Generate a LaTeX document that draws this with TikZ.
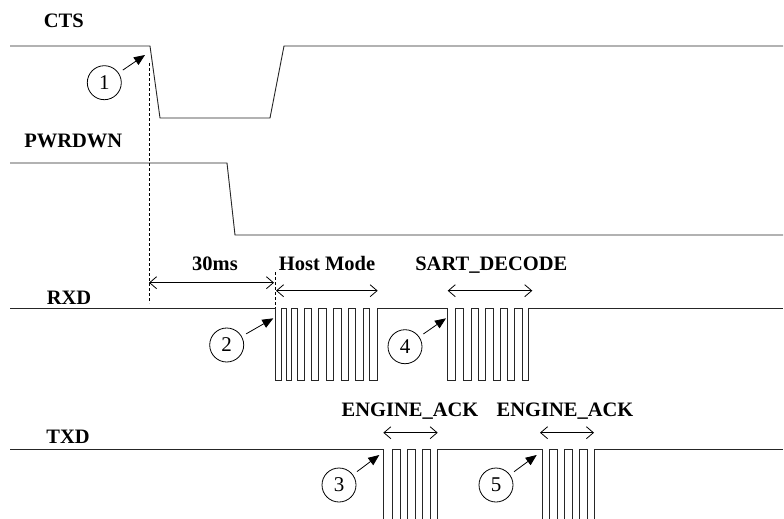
\documentclass[tikz,border=0pt]{standalone}
\usepackage{fontspec}
\setmainfont{Liberation Serif}
\usetikzlibrary{arrows.meta}
\begin{document}
\begin{tikzpicture}[x=1pt,y=-1pt,
  wave/.style={line width=0.9pt, draw=black!85},
  lbl/.style={font=\fontsize{20.5}{24}\selectfont\bfseries, anchor=base, inner sep=0pt},
  num/.style={circle, draw, line width=0.8pt, minimum size=34pt, inner sep=0pt, font=\fontsize{21}{24}\selectfont},
  ptr/.style={line width=0.8pt, shorten <=5pt, -{Triangle[length=11pt,width=9pt]}},
  span/.style={line width=0.8pt, {Straight Barb[length=7pt,width=12pt]}-{Straight Barb[length=7pt,width=12pt]}},
  guide/.style={line width=0.8pt, dash pattern=on 3pt off 2pt}
]
\useasboundingbox (0,0) rectangle (784,519);
\clip (0,0) rectangle (784,519);
\fill[white] (0,0) rectangle (784,519);

% labels
\node[lbl] (lcts) at (63.8,27.3) {CTS};
\node[lbl] (lpwr) at (73.3,147.3) {PWRDWN};
\node[lbl] (lrxd) at (69,304) {RXD};
\node[lbl] (ltxd) at (68,443) {TXD};
\node[lbl] (l30) at (215,270.7) {30ms};
\node[lbl] (lhost) at (327,270.7) {Host Mode};
\node[lbl] (lsart) at (491.3,270.7) {SART\_DECODE};
\node[lbl] (lea1) at (410,416.7) {ENGINE\_ACK};
\node[lbl] (lea2) at (565,416.7) {ENGINE\_ACK};

% CTS
\draw[wave] (10,46) -- (150,46) -- (160,118) -- (270,118) -- (284,46) -- (783,46);
% PWRDWN
\draw[wave] (10,163) -- (227,163) -- (235,235) -- (783,235);
% RXD
\draw[wave] (10,308) -- (275,308) -- (275,380) -- (281,380) -- (281,308) -- (286,308) -- (286,380) -- (291,380) -- (291,308) -- (297,308) -- (297,380) -- (304,380) -- (304,308) -- (311,308) -- (311,380) -- (318,380) -- (318,308) -- (326,308) -- (326,380) -- (333,380) -- (333,308) -- (341,308) -- (341,380) -- (348,380) -- (348,308) -- (355,308) -- (355,380) -- (363,380) -- (363,308) -- (369,308) -- (369,380) -- (377,380) -- (377,308) -- (447,308) -- (447,380) -- (455,380) -- (455,308) -- (463,308) -- (463,380) -- (471,380) -- (471,308) -- (478,308) -- (478,380) -- (485,380) -- (485,308) -- (493,308) -- (493,380) -- (500,380) -- (500,308) -- (507,308) -- (507,380) -- (514,380) -- (514,308) -- (522,308) -- (522,380) -- (528,380) -- (528,308) -- (783,308);
% TXD
\draw[wave] (10,449) -- (383,449) -- (383,525) -- (392,525) -- (392,449) -- (400,449) -- (400,525) -- (407,525) -- (407,449) -- (415,449) -- (415,525) -- (422,525) -- (422,449) -- (430,449) -- (430,525) -- (437,525) -- (437,449) -- (542,449) -- (542,525) -- (549,525) -- (549,449) -- (557,449) -- (557,525) -- (564,525) -- (564,449) -- (572,449) -- (572,525) -- (579,525) -- (579,449) -- (587,449) -- (587,525) -- (594,525) -- (594,449) -- (783,449);

% guides
\coordinate (g1a) at (149,63);
\coordinate (g1b) at (149,303);
\coordinate (g2a) at (275.5,272);
\coordinate (g2b) at (275.5,308);
\draw[guide] (g1a) -- (g1b);
\draw[guide] (g2a) -- (g2b);

% spans
\coordinate (s1a) at (149,282.7);   \coordinate (s1b) at (274,282.7);
\coordinate (s2a) at (276,290.7);   \coordinate (s2b) at (377.7,290.7);
\coordinate (s3a) at (447.7,290.7); \coordinate (s3b) at (532.3,290.7);
\coordinate (s4a) at (383.3,432.7); \coordinate (s4b) at (437.7,432.7);
\coordinate (s5a) at (540,432.7);   \coordinate (s5b) at (594,432.7);
\draw[span] (s1a) -- (s1b);
\draw[span] (s2a) -- (s2b);
\draw[span] (s3a) -- (s3b);
\draw[span] (s4a) -- (s4b);
\draw[span] (s5a) -- (s5b);

% numbered markers
\node[num] (c1) at (104.3,82.7) {1};
\node[num] (c2) at (226.7,345) {2};
\node[num] (c3) at (339,485) {3};
\node[num] (c4) at (405,346.7) {4};
\node[num] (c5) at (496,485) {5};
\coordinate (t1) at (145,55);
\coordinate (t2) at (273.3,318.3);
\coordinate (t3) at (379.3,455);
\coordinate (t4) at (446,318.3);
\coordinate (t5) at (536.7,455);
\draw[ptr] (c1) -- (t1);
\draw[ptr] (c2) -- (t2);
\draw[ptr] (c3) -- (t3);
\draw[ptr] (c4) -- (t4);
\draw[ptr] (c5) -- (t5);
\end{tikzpicture}
\end{document}
